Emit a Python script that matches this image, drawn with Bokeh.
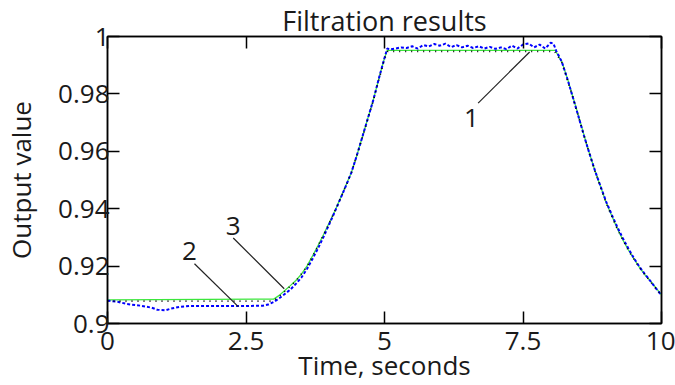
import math
from bokeh.plotting import figure
from bokeh.models import LinearAxis, FixedTicker, Label, Range1d
from bokeh.embed import file_html
from bokeh.resources import INLINE

# ---------------- data ----------------
x_ticks = [0, 2.5, 5, 7.5, 10]
x_tick_labels = ["0", "2.5", "5", "7.5", "10"]
y_ticks = [0.9, 0.92, 0.94, 0.96, 0.98, 1.0]
y_tick_labels = ["0.9", "0.92", "0.94", "0.96", "0.98", "1"]

# curve 3 (green, solid)
green_t = [0.0, 3.0, 3.1, 3.2, 3.3, 3.4, 3.5, 3.6, 3.7, 3.8, 3.9, 4.0, 4.1, 4.2, 4.3,
           4.4, 4.5, 4.6, 4.7, 4.8, 4.9, 5.0, 5.05, 8.08, 8.2, 8.3, 8.4, 8.5, 8.6,
           8.7, 8.8, 8.9, 9.0, 9.1, 9.2, 9.3, 9.4, 9.5, 9.6, 9.7, 9.8, 9.9, 10.0]
green_v = [0.9082, 0.9085, 0.9098, 0.9115, 0.9132, 0.9150, 0.9172, 0.9200, 0.9235,
           0.9272, 0.9310, 0.9350, 0.9390, 0.9435, 0.9480, 0.9525, 0.9585, 0.9650,
           0.9715, 0.9780, 0.9855, 0.9925, 0.9952, 0.9952, 0.9912, 0.9855, 0.9790,
           0.9725, 0.9657, 0.9592, 0.9532, 0.9477, 0.9422, 0.9376, 0.9332, 0.9292,
           0.9257, 0.9226, 0.9196, 0.9170, 0.9148, 0.9124, 0.9100]

# curve 2 (blue, dotted, noisy)
blue_t = [0.0, 0.2, 0.35, 0.6, 0.8, 0.9, 1.05, 1.15, 1.3, 1.5, 2.0, 2.5, 2.8, 2.9,
          3.0, 3.1, 3.2, 3.3, 3.4, 3.5, 3.6, 3.7, 3.8, 3.9, 4.0, 4.1, 4.2, 4.3, 4.4,
          4.5, 4.6, 4.7, 4.8, 4.9, 5.0, 5.05, 5.1, 5.2, 5.3, 5.4, 5.5, 5.6, 5.7, 5.8,
          5.9, 6.0, 6.1, 6.2, 6.3, 6.4, 6.5, 6.6, 6.7, 6.8, 6.9, 7.0, 7.1, 7.2, 7.3,
          7.4, 7.5, 7.6, 7.7, 7.8, 7.9, 8.0, 8.05, 8.1, 8.2, 8.3, 8.4, 8.5, 8.6, 8.7,
          8.8, 8.9, 9.0, 9.1, 9.2, 9.3, 9.4, 9.5, 9.6, 9.7, 9.8, 9.9, 10.0]
blue_v = [0.9080, 0.9075, 0.9068, 0.9062, 0.9055, 0.9048, 0.9046, 0.9052, 0.9058,
          0.9061, 0.9061, 0.9061, 0.9062, 0.9066, 0.9075, 0.9088, 0.9103, 0.9118,
          0.9138, 0.9160, 0.9190, 0.9225, 0.9262, 0.9302, 0.9345, 0.9388, 0.9433,
          0.9478, 0.9525, 0.9585, 0.9650, 0.9715, 0.9780, 0.9855, 0.9925, 0.9958,
          0.9955, 0.9958, 0.9962, 0.9960, 0.9966, 0.9958, 0.9970, 0.9965, 0.9974,
          0.9968, 0.9975, 0.9963, 0.9970, 0.9962, 0.9968, 0.9960, 0.9966, 0.9958,
          0.9964, 0.9957, 0.9962, 0.9956, 0.9968, 0.9958, 0.9972, 0.9976, 0.9962,
          0.9972, 0.9958, 0.9978, 0.9975, 0.9950, 0.9912, 0.9853, 0.9788, 0.9722,
          0.9655, 0.9592, 0.9532, 0.9478, 0.9425, 0.9380, 0.9337, 0.9298, 0.9262,
          0.9228, 0.9198, 0.9172, 0.9148, 0.9122, 0.9098]

# curve 1 (black, dotted)
black_t = [0.0, 2.95, 3.05, 3.2, 3.4, 3.6, 3.8, 4.0, 4.2, 4.4, 4.6, 4.8, 5.0, 5.06,
           8.07, 8.2, 8.4, 8.6, 8.8, 9.0, 9.2, 9.4, 9.6, 9.8, 10.0]
black_v = [0.9078, 0.9078, 0.9086, 0.9112, 0.9148, 0.9198, 0.9270, 0.9348, 0.9433,
           0.9524, 0.9648, 0.9778, 0.9922, 0.9948, 0.9948, 0.9910, 0.9788, 0.9655,
           0.9530, 0.9420, 0.9330, 0.9255, 0.9195, 0.9146, 0.9098]

title_text = "Filtration results"
x_label = "Time, seconds"
y_label = "Output value"

# curve number callouts: text, text position, leader line start/end
callout_text = ["1", "2", "3"]
callout_x = [6.57, 1.48, 2.27]
callout_y = [0.9716, 0.9253, 0.9339]
leader_x0 = [6.69, 1.57, 2.27]
leader_y0 = [0.9768, 0.9208, 0.9298]
leader_x1 = [7.62, 2.36, 3.19]
leader_y1 = [0.9946, 0.9059, 0.9121]

# ---------------- figure ----------------
FONT = "Open Sans"
TXT = "#1a1a1a"

p = figure(width=675, height=385, x_range=Range1d(0, 10), y_range=Range1d(0.9, 1.0),
           output_backend="svg", toolbar_location=None,
           min_border_left=106, min_border_right=14, min_border_top=36,
           min_border_bottom=60)
p.xgrid.visible = False
p.ygrid.visible = False
p.outline_line_color = "black"
p.outline_line_width = 1.5
p.background_fill_color = "white"
p.border_fill_color = "white"

p.title.text = title_text
p.title.align = "center"
p.title.text_font = FONT
p.title.text_font_size = "27px"
p.title.text_font_style = "normal"
p.title.text_color = TXT
p.title.standoff = -4

top_axis = LinearAxis(major_label_text_font_size="0px", major_label_standoff=0)
right_axis = LinearAxis(major_label_text_font_size="0px", major_label_standoff=0)
p.add_layout(top_axis, "above")
p.add_layout(right_axis, "right")

for ax in p.xaxis:
    ax.ticker = FixedTicker(ticks=x_ticks)
    ax.major_label_overrides = {t: s for t, s in zip(x_ticks, x_tick_labels)}
for ax in p.yaxis:
    ax.ticker = FixedTicker(ticks=y_ticks)
    ax.major_label_overrides = {t: s for t, s in zip(y_ticks, y_tick_labels)}

for ax in list(p.xaxis) + list(p.yaxis):
    ax.major_tick_in = 12
    ax.major_tick_out = 0
    ax.minor_tick_in = 0
    ax.minor_tick_out = 0
    ax.axis_line_color = "black"
    ax.axis_line_width = 1.5
    ax.major_tick_line_color = "black"
    ax.major_tick_line_width = 1.5
    ax.major_label_text_font = FONT
    ax.major_label_text_color = TXT

xa = p.below[0]
xa.major_label_text_font_size = "26px"
xa.major_label_text_line_height = 1.0
xa.major_label_standoff = 8
xa.axis_label = x_label
xa.axis_label_text_font = FONT
xa.axis_label_text_font_size = "26px"
xa.axis_label_text_font_style = "normal"
xa.axis_label_text_color = TXT
xa.axis_label_text_line_height = 0.85
xa.axis_label_standoff = -6

ya = p.left[0]
ya.major_label_text_font_size = "26px"
ya.major_label_standoff = -2
ya.axis_label = y_label
ya.axis_label_text_font = FONT
ya.axis_label_text_font_size = "26px"
ya.axis_label_text_font_style = "normal"
ya.axis_label_text_color = TXT
ya.axis_label_standoff = 16

p.line(green_t, green_v, line_color="#3ce63c", line_width=1.3)
p.line(blue_t, blue_v, line_color="#0000ff", line_width=2, line_dash="3 2")
p.line(black_t, black_v, line_color="black", line_width=1.6, line_dash="1 5")

p.segment(x0=leader_x0, y0=leader_y0, x1=leader_x1, y1=leader_y1,
          line_color="#222222", line_width=1.2)

for s, cx, cy in zip(callout_text, callout_x, callout_y):
    p.add_layout(Label(x=cx, y=cy, text=s, text_align="center", text_baseline="middle",
                       text_font=FONT, text_font_size="26px", text_color=TXT))

open("out.html", "w").write(file_html(p, INLINE))
